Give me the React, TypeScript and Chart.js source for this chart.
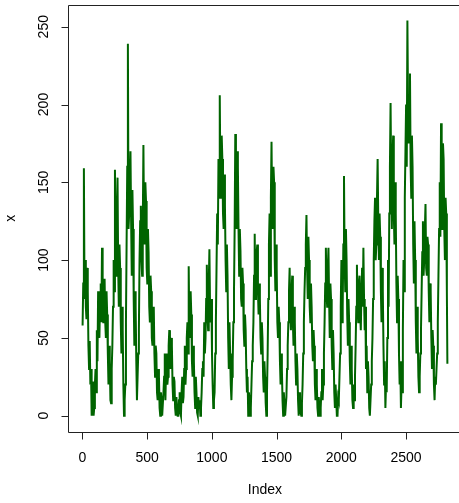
import React, { useEffect, useRef } from "react";
import { Chart, registerables } from "chart.js";

Chart.register(...registerables);

const INDEX_STEP = 5;
const LAST_INDEX = 2820;
const sunspots = [
  58, 85, 159, 75, 100, 70, 62, 95, 80, 45, 30, 48, 20, 30, 0, 22, 15, 0, 5, 20,
  30, 15, 55, 35, 80, 60, 50, 75, 85, 60, 108, 80, 60, 75, 88, 60, 50, 80, 65, 40,
  20, 45, 35, 10, 8, 30, 45, 70, 100, 80, 158, 110, 90, 130, 153, 95, 70, 110, 95, 60,
  40, 70, 55, 20, 0, 10, 20, 60, 110, 160, 239, 120, 130, 150, 170, 125, 90, 145, 120, 75,
  45, 80, 70, 35, 10, 25, 40, 55, 100, 125, 135, 100, 90, 120, 174, 120, 110, 150, 138, 95,
  85, 120, 105, 70, 60, 90, 80, 50, 45, 65, 70, 40, 25, 45, 40, 15, 10, 30, 25, 5,
  0, 15, 10, 0, 0, 15, 25, 40, 10, 30, 40, 20, 25, 45, 55, 35, 30, 50, 45, 20,
  10, 25, 22, 5, 0, 12, 5, 0, 0, 10, 15, 2, 0, 15, 25, 8, 12, 30, 45, 20,
  30, 50, 60, 40, 96, 55, 50, 80, 65, 35, 25, 45, 35, 15, 5, 25, 15, 2, 0, 12,
  5, 10, 0, 5, 15, 30, 35, 25, 60, 40, 50, 75, 97, 65, 55, 85, 107, 70, 60, 75,
  40, 20, 5, 10, 15, 40, 60, 95, 130, 110, 165, 140, 206, 150, 140, 180, 165, 130, 120, 155,
  135, 100, 80, 110, 90, 50, 30, 60, 40, 20, 10, 25, 35, 60, 80, 120, 181, 140, 120, 170,
  160, 120, 90, 120, 106, 75, 70, 95, 85, 55, 45, 65, 55, 30, 15, 25, 0, 15, 10, 0,
  5, 20, 35, 45, 60, 90, 117, 75, 80, 105, 110, 80, 65, 85, 75, 50, 40, 60, 50, 25,
  15, 35, 25, 8, 0, 15, 40, 75, 110, 130, 90, 140, 176, 130, 120, 160, 150, 100, 80, 110,
  95, 60, 50, 70, 60, 35, 20, 40, 30, 10, 0, 15, 8, 0, 0, 12, 30, 45, 60, 80,
  95, 65, 55, 80, 90, 60, 45, 70, 60, 35, 20, 40, 30, 10, 0, 15, 10, 2, 0, 8,
  20, 40, 60, 80, 95, 110, 129, 95, 75, 115, 100, 70, 60, 85, 70, 45, 35, 55, 45, 20,
  10, 30, 20, 5, 0, 12, 5, 0, 5, 15, 30, 10, 20, 40, 60, 85, 108, 80, 70, 95,
  108, 75, 50, 85, 75, 45, 30, 55, 40, 15, 5, 20, 10, 0, 0, 12, 10, 25, 40, 70,
  100, 60, 70, 110, 154, 100, 80, 120, 100, 65, 45, 75, 60, 35, 20, 45, 30, 10, 5, 20,
  10, 25, 45, 70, 97, 70, 60, 85, 90, 65, 55, 80, 95, 70, 108, 75, 55, 70, 30, 45,
  15, 35, 25, 5, 0, 10, 20, 35, 50, 75, 100, 125, 140, 100, 110, 140, 165, 125, 100, 130,
  115, 80, 60, 95, 80, 45, 20, 35, 5, 20, 15, 50, 100, 70, 130, 160, 201, 150, 120, 165,
  180, 130, 110, 150, 130, 85, 60, 90, 75, 40, 20, 35, 5, 20, 15, 55, 100, 80, 140, 170,
  200, 160, 254, 200, 175, 205, 220, 160, 140, 180, 160, 110, 85, 125, 100, 60, 40, 70, 50, 25,
  15, 25, 40, 55, 80, 105, 125, 90, 100, 120, 136, 95, 90, 115, 110, 80, 60, 85, 80, 50,
  30, 55, 45, 20, 10, 25, 20, 30, 40, 60, 90, 120, 150, 115, 188, 140, 120, 175, 165, 120,
  100, 140, 130, 80, 33.4,
];
const xTicks = [0, 500, 1000, 1500, 2000, 2500];
const yTicks = [0, 50, 100, 150, 200, 250];
const xLabel = "Index";
const yLabel = "x";

const W = 459;
const H = 503;
const FONT = '14px "Liberation Sans", Arial, sans-serif';

const rAxesPlugin = {
  id: "rAxes",
  afterDraw(chart: any) {
    const { ctx, chartArea } = chart;
    const xs = chart.scales.x;
    const ys = chart.scales.y;
    ctx.save();
    ctx.strokeStyle = "#222";
    ctx.lineWidth = 1;
    const L = Math.round(chartArea.left) + 0.5;
    const T = Math.round(chartArea.top) + 0.5;
    const B = Math.round(chartArea.bottom) + 0.5;
    // box (right side falls outside canvas)
    ctx.beginPath();
    ctx.moveTo(W + 5, T);
    ctx.lineTo(L, T);
    ctx.lineTo(L, B);
    ctx.lineTo(W + 5, B);
    ctx.stroke();
    // x ticks
    ctx.fillStyle = "#000";
    ctx.font = FONT;
    ctx.textAlign = "center";
    ctx.textBaseline = "middle";
    ctx.beginPath();
    xTicks.forEach((t) => {
      const px = Math.round(xs.getPixelForValue(t)) + 0.5;
      ctx.moveTo(px, B);
      ctx.lineTo(px, B + 7);
    });
    ctx.stroke();
    xTicks.forEach((t) => {
      const px = xs.getPixelForValue(t);
      ctx.fillText(String(t), px, B + 26);
    });
    // y ticks
    ctx.beginPath();
    yTicks.forEach((t) => {
      const py = Math.round(ys.getPixelForValue(t)) + 0.5;
      ctx.moveTo(L, py);
      ctx.lineTo(L - 7, py);
    });
    ctx.stroke();
    yTicks.forEach((t) => {
      const py = ys.getPixelForValue(t);
      ctx.save();
      ctx.translate(L - 24, py);
      ctx.rotate(-Math.PI / 2);
      ctx.fillText(String(t), 0, 0);
      ctx.restore();
    });
    // axis titles
    ctx.fillText(xLabel, (chartArea.left + xs.getPixelForValue(2932.8)) / 2, 490);
    ctx.save();
    ctx.translate(11, (chartArea.top + chartArea.bottom) / 2);
    ctx.rotate(-Math.PI / 2);
    ctx.fillText(yLabel, 0, 0);
    ctx.restore();
    ctx.restore();
  },
};

export default function App() {
  const ref = useRef<HTMLCanvasElement | null>(null);
  useEffect(() => {
    if (!ref.current) return;
    const n = sunspots.length;
    const data = sunspots.map((v, k) => ({
      x: k === n - 1 ? LAST_INDEX : 1 + k * INDEX_STEP,
      y: v,
    }));
    const chart = new Chart(ref.current, {
      type: "line",
      data: {
        datasets: [
          {
            data,
            borderColor: "#006400",
            borderWidth: 2,
            pointRadius: 0,
            tension: 0,
            fill: false,
          },
        ],
      },
      options: {
        responsive: false,
        animation: false,
        devicePixelRatio: 1,
        layout: { padding: { left: 68, top: 5, right: 0, bottom: 71.5 } },
        plugins: { legend: { display: false }, tooltip: { enabled: false } },
        scales: {
          x: { type: "linear", display: false, min: -111.8, max: 2909.8 },
          y: { type: "linear", display: false, min: -10.15, max: 263.95 },
        },
      },
      plugins: [rAxesPlugin],
    });
    return () => chart.destroy();
  }, []);
  return (
    <div style={{ position: "absolute", left: 0, top: 0, width: W, height: H, background: "#fff" }}>
      <canvas ref={ref} width={W} height={H} style={{ width: W, height: H, display: "block" }} />
    </div>
  );
}
